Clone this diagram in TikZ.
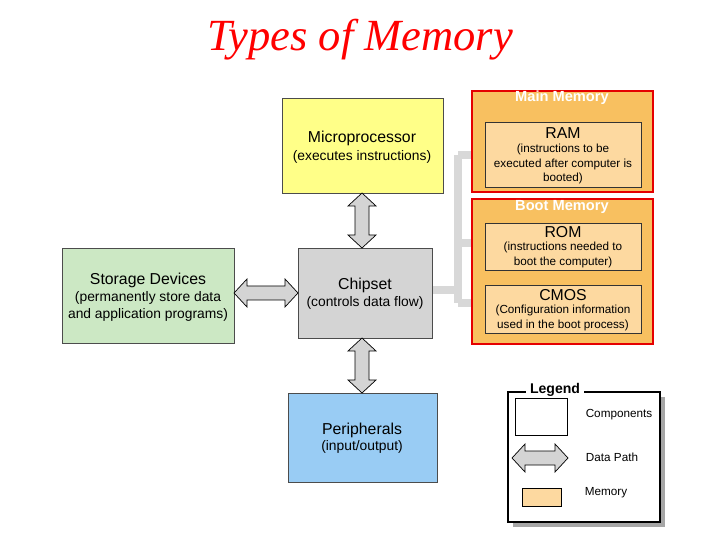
\documentclass[tikz,border=0pt]{standalone}
\usepackage{fontspec}
\setmainfont{Liberation Sans}
\newfontfamily\titlefont{Liberation Serif}
\usetikzlibrary{positioning,calc}
\definecolor{cpuyellow}{HTML}{FFFF88}
\definecolor{chipgray}{HTML}{D4D4D4}
\definecolor{storegreen}{HTML}{CCE8C4}
\definecolor{periblue}{HTML}{99CCF4}
\definecolor{memorange}{HTML}{F8C060}
\definecolor{memlight}{HTML}{FDD9A0}
\definecolor{pathgray}{HTML}{D8D8D8}
\tikzset{
  comp/.style={draw=black!70, line width=0.6pt},
  mem/.style={draw=red!90!black, fill=memorange, line width=1.2pt},
  memin/.style={draw=black!80, fill=memlight, line width=0.5pt},
  memtitle/.style={text=white, font=\bfseries\fontsize{12.5}{14}\selectfont},
  big/.style={font=\fontsize{13.5}{16}\selectfont},
  sub/.style={font=\fontsize{11.8}{14.5}\selectfont, align=center},
  tiny/.style={font=\fontsize{10}{12.5}\selectfont, align=center},
  lgd/.style={font=\fontsize{10}{12}\selectfont},
  path/.style={draw=pathgray, line width=6pt},
  fat/.style={fill=chipgray, draw=black, line width=0.6pt}
}
% fat double arrow, horizontal: x1 x2 y ; vertical: x y1 y2
\newcommand\hpathway[3]{\draw[fat] (#1,#3) -- (#1+13,#3-14) -- (#1+13,#3-7) -- (#2-13,#3-7) -- (#2-13,#3-14) -- (#2,#3) -- (#2-13,#3+14) -- (#2-13,#3+7) -- (#1+13,#3+7) -- (#1+13,#3+14) -- cycle;}
\newcommand\vpathway[3]{\draw[fat] (#1,#2) -- (#1-14,#2+13) -- (#1-7,#2+13) -- (#1-7,#3-13) -- (#1-14,#3-13) -- (#1,#3) -- (#1+14,#3-13) -- (#1+7,#3-13) -- (#1+7,#2+13) -- (#1+14,#2+13) -- cycle;}
\begin{document}
\begin{tikzpicture}[x=0.03cm, y=-0.03cm]
  \useasboundingbox (0,0) rectangle (720,540);

  \node[text=red, font=\titlefont\itshape\fontsize{38}{40}\selectfont] (title) at (360,40) {Types of Memory};

  % gray data paths to memory
  \coordinate (j1) at (458,155);
  \coordinate (j2) at (458,303);
  \draw[path] (j1) -- (j2);
  \draw[path] (j1) -- (472,155);
  \draw[path] (458,243) -- (472,243);
  \draw[path] (j2) -- (472,303);
  \draw[path] (432,290) -- (458,290);

  % components
  \draw[comp, fill=cpuyellow] (282,98) rectangle (443,193);
  \node[big] (cpu) at (362,138) {Microprocessor};
  \node[sub] (cpusub) at (362,157) {(executes instructions)};

  \draw[comp, fill=chipgray] (298,248) rectangle (432,338);
  \node[big] (chip) at (365,285) {Chipset};
  \node[sub] (chipsub) at (365,303) {(controls data flow)};

  \draw[comp, fill=storegreen] (62,248) rectangle (234,343);
  \node[big] (store) at (148,280) {Storage Devices};
  \node[sub] (storesub) at (148,306) {(permanently store data\\and application programs)};

  \draw[comp, fill=periblue] (288,393) rectangle (437,482);
  \node[big] (peri) at (362,430) {Peripherals};
  \node[sub] (perisub) at (362,447) {(input/output)};

  % memory groups
  \draw[mem] (472,91) rectangle (653,192);
  \node[memtitle] (mainmem) at (562,98) {Main Memory};
  \draw[memin] (485,122) rectangle (641,187);
  \node[big] (ram) at (563,133) {RAM};
  \node[tiny] (ramsub) at (563,164) {(instructions to be\\executed after computer is\\booted)};

  \draw[mem] (472,199) rectangle (653,344);
  \node[memtitle] (bootmem) at (562,207) {Boot Memory};
  \draw[memin] (485,223) rectangle (641,270);
  \node[big] (rom) at (563,232) {ROM};
  \node[tiny] (romsub) at (563,255) {(instructions needed to\\boot the computer)};
  \draw[memin] (485,285) rectangle (641,333);
  \node[big] (cmos) at (563,295) {CMOS};
  \node[tiny] (cmossub) at (563,318) {(Configuration information\\used in the boot process)};

  % data paths
  \vpathway{362}{193}{248}
  \vpathway{362}{338}{393}
  \hpathway{234}{298}{293}

  % legend
  \fill[black!35] (513,397) rectangle (665,527);
  \draw[fill=white, line width=1.2pt] (508,392) rectangle (660,522);
  \node[fill=white, font=\bfseries\fontsize{12}{14}\selectfont, inner sep=3pt] (legend) at (555,390) {Legend};
  \draw[line width=0.5pt] (515,398) rectangle (567,435);
  \node[lgd] (lcomp) at (619,415) {Components};
  \hpathway{512}{568}{458}
  \node[lgd] (lpath) at (612,457) {Data Path};
  \draw[fill=memlight, line width=0.5pt] (522,488) rectangle (561,506);
  \node[lgd] (lmem) at (606,493) {Memory};
\end{tikzpicture}
\end{document}
